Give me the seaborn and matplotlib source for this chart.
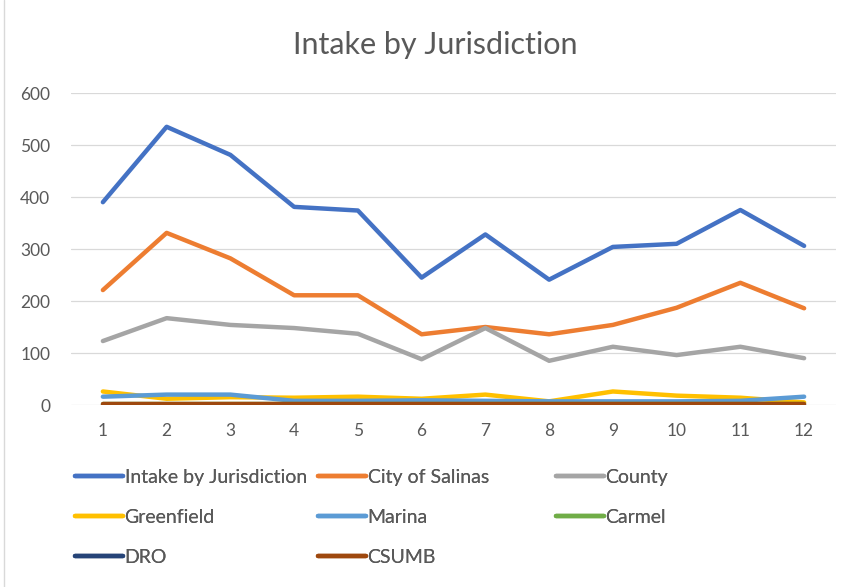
import matplotlib
matplotlib.use("Agg")
import matplotlib.pyplot as plt
import seaborn as sns
import pandas as pd
from matplotlib.lines import Line2D

# ── Data ───────────────────────────────────────────────────────────────────────
months       = [1, 2, 3, 4, 5, 6, 7, 8, 9, 10, 11, 12]
intake       = [390, 535, 481, 381, 374, 245, 328, 241, 304, 310, 375, 306]
city_salinas = [221, 331, 282, 211, 211, 136, 150, 136, 154, 187, 235, 186]
county       = [123, 167, 154, 148, 137, 88, 148, 85, 112, 96, 112, 90]
greenfield   = [26, 12, 15, 14, 16, 12, 20, 7, 26, 18, 14, 5]
marina       = [16, 20, 20, 8, 8, 9, 8, 7, 7, 7, 8, 16]
carmel       = [1, 1, 1, 1, 1, 1, 1, 1, 1, 1, 1, 1]
dro          = [0, 0, 0, 0, 0, 0, 0, 0, 0, 0, 0, 0]
csumb        = [1, 1, 1, 1, 1, 1, 1, 1, 1, 1, 1, 1]

series_names = ["Intake by Jurisdiction", "City of Salinas", "County", "Greenfield",
                "Marina", "Carmel", "DRO", "CSUMB"]
series_vals  = [intake, city_salinas, county, greenfield, marina, carmel, dro, csumb]
colors       = ["#4472C4", "#ED7D31", "#A5A5A5", "#FFC000",
                "#5B9BD5", "#70AD47", "#264478", "#9E480E"]

TEXT_COLOR = "#595959"
GRID_COLOR = "#D9D9D9"

df = pd.DataFrame([
    {"Month": m, "Value": v, "Series": name}
    for name, vals in zip(series_names, series_vals)
    for m, v in zip(months, vals)
])

# ── Figure ─────────────────────────────────────────────────────────────────────
sns.set_style("white")
plt.rcParams["font.family"] = ["Lato", "DejaVu Sans"]

fig = plt.figure(figsize=(8.54, 5.87), dpi=100)
ax = fig.add_axes([71 / 854, 1 - 405 / 587, (836 - 71) / 854, (405 - 93) / 587])

sns.lineplot(data=df, x="Month", y="Value", hue="Series", hue_order=series_names,
             palette=colors, linewidth=3.2, ax=ax, legend=False,
             solid_capstyle="round", solid_joinstyle="round")

ax.set_xlim(0.5, 12.5)
ax.set_ylim(0, 600)
ax.set_xticks(months)
ax.set_yticks(range(0, 601, 100))
ax.set_xlabel("")
ax.set_ylabel("")
ax.tick_params(axis="both", length=0, labelsize=12.5, labelcolor=TEXT_COLOR)
ax.tick_params(axis="y", pad=15)
ax.tick_params(axis="x", pad=13)
ax.grid(axis="y", color=GRID_COLOR, linewidth=0.9)
ax.set_axisbelow(True)
for s in ax.spines.values():
    s.set_visible(False)

fig.text(435 / 854, 1 - 45 / 587, "Intake by Jurisdiction", ha="center", va="center",
         fontsize=22, color=TEXT_COLOR)

# ── Legend: three columns, filled row by row like Excel ───────────────────────
handles = [Line2D([0], [0], color=c, linewidth=3.2) for c in colors]
col_x = [75 / 854, 318 / 854, 556 / 854]
for j, x in enumerate(col_x):
    idx = list(range(j, len(series_names), 3))
    n = len(idx)
    y_center = 478 + (n - 1) * 39.5 / 2
    leg = fig.legend([handles[i] for i in idx], [series_names[i] for i in idx],
                     loc="center left", bbox_to_anchor=(x, 1 - y_center / 587),
                     frameon=False, borderpad=0, borderaxespad=0,
                     fontsize=14, labelcolor=TEXT_COLOR,
                     handlelength=2.45, handletextpad=0.1, labelspacing=1.18)
    fig.add_artist(leg)

# chart border line on the left
fig.add_artist(Line2D([4 / 854, 4 / 854], [0, 1], transform=fig.transFigure,
                      color=GRID_COLOR, linewidth=1))

fig.savefig("out.png", dpi=100)
